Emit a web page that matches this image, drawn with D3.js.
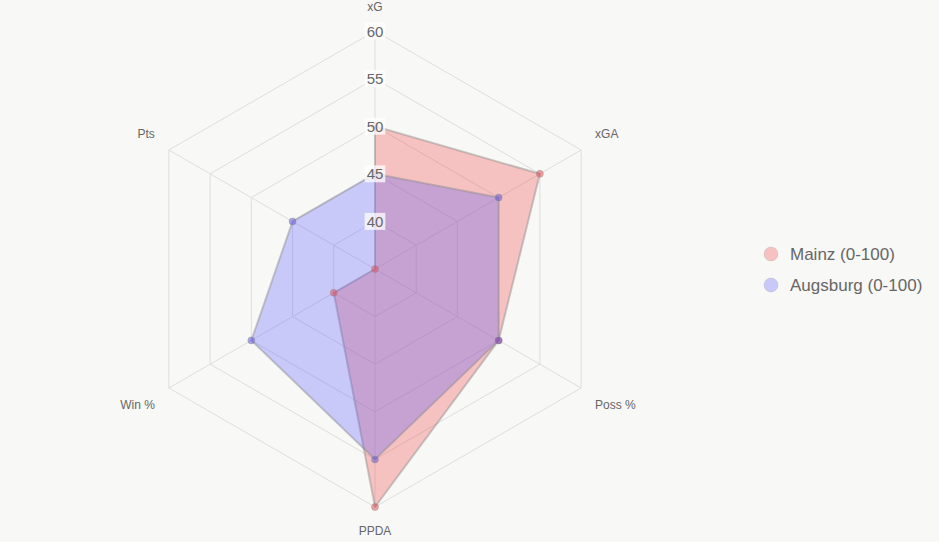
<!DOCTYPE html>
<html>
<head>
<meta charset="utf-8">
<script src="https://cdn.jsdelivr.net/npm/d3@7"></script>
<style>
  html, body { margin: 0; padding: 0; background: #f8f8f6; }
  svg { display: block; font-family: "Liberation Sans", Arial, sans-serif; }
</style>
</head>
<body>
<script>
var width = 939;
var height = 542;

// data
var axes = ["xG", "xGA", "Poss %", "PPDA", "Win %", "Pts"];
var mainz = [50, 55, 50, 60, 40, 35];
var augsburg = [45, 50, 50, 55, 50, 45];
var seriesNames = ["Mainz (0-100)", "Augsburg (0-100)"];
var ticks = [40, 45, 50, 55, 60];

var cx = 375, cy = 269, R = 238;
var minV = 35, maxV = 60;

var svg = d3.select("body").append("svg")
    .attr("width", width)
    .attr("height", height);

svg.append("rect")
    .attr("width", width)
    .attr("height", height)
    .attr("fill", "#f8f8f6");

var r = d3.scaleLinear().domain([minV, maxV]).range([0, R]);
var angle = function (i) { return i * 2 * Math.PI / axes.length; };

function pt(i, v) {
    var a = angle(i);
    return [cx + r(v) * Math.sin(a), cy - r(v) * Math.cos(a)];
}

var g = svg.append("g");

// grid rings
ticks.forEach(function (t) {
    g.append("polygon")
        .attr("points", axes.map(function (d, i) { return pt(i, t).join(","); }).join(" "))
        .attr("fill", "none")
        .attr("stroke", "#dedede")
        .attr("stroke-width", 1);
});

// spokes
axes.forEach(function (d, i) {
    var p = pt(i, maxV);
    g.append("line")
        .attr("x1", cx).attr("y1", cy)
        .attr("x2", p[0]).attr("y2", p[1])
        .attr("stroke", "#dedede")
        .attr("stroke-width", 1);
});

// series
var series = [
    {name: seriesNames[0], values: mainz, fill: "rgba(240,70,70,0.3)", point: "rgba(230,70,80,0.5)"},
    {name: seriesNames[1], values: augsburg, fill: "rgba(90,90,255,0.3)", point: "rgba(90,80,220,0.5)"}
];

series.forEach(function (s) {
    g.append("polygon")
        .attr("points", s.values.map(function (v, i) { return pt(i, v).join(","); }).join(" "))
        .attr("fill", s.fill)
        .attr("stroke", "rgba(140,140,140,0.45)")
        .attr("stroke-width", 2)
        .attr("stroke-linejoin", "round");
});

series.forEach(function (s) {
    g.selectAll(null).data(s.values).enter()
        .append("circle")
        .attr("cx", function (v, i) { return pt(i, v)[0]; })
        .attr("cy", function (v, i) { return pt(i, v)[1]; })
        .attr("r", 3.5)
        .attr("fill", s.point)
        .attr("stroke", "rgba(140,140,140,0.4)")
        .attr("stroke-width", 1);
});

// tick labels with backdrop
ticks.forEach(function (t) {
    var y = cy - r(t);
    var lab = g.append("g");
    var txt = lab.append("text")
        .attr("x", cx)
        .attr("y", y)
        .attr("text-anchor", "middle")
        .attr("dominant-baseline", "central")
        .attr("font-size", 15)
        .attr("fill", "#666")
        .text(t);
    var bb = txt.node().getBBox();
    lab.insert("rect", "text")
        .attr("x", bb.x - 2).attr("y", bb.y)
        .attr("width", bb.width + 4).attr("height", bb.height)
        .attr("fill", "rgba(255,255,255,0.75)");
});

// axis labels
axes.forEach(function (d, i) {
    var a = angle(i);
    var p = pt(i, maxV);
    var s = Math.sin(a), c = Math.cos(a);
    var side = Math.abs(s) < 0.01;
    g.append("text")
        .attr("x", side ? p[0] : p[0] + (s > 0 ? 14 : -14))
        .attr("y", side ? p[1] - c * 24 : p[1] - c * 33)
        .attr("text-anchor", side ? "middle" : (s > 0 ? "start" : "end"))
        .attr("dominant-baseline", "central")
        .attr("font-size", 12)
        .attr("fill", "#666")
        .text(d);
});

// legend
var legend = svg.append("g").attr("transform", "translate(771,254)");
series.forEach(function (s, i) {
    var row = legend.append("g").attr("transform", "translate(0," + (i * 31) + ")");
    row.append("circle")
        .attr("r", 7)
        .attr("fill", s.fill)
        .attr("stroke", "rgba(140,140,140,0.2)");
    row.append("text")
        .attr("x", 19)
        .attr("y", 0)
        .attr("dominant-baseline", "central")
        .attr("font-size", 17)
        .attr("fill", "#666")
        .text(s.name);
});
</script>
</body>
</html>
